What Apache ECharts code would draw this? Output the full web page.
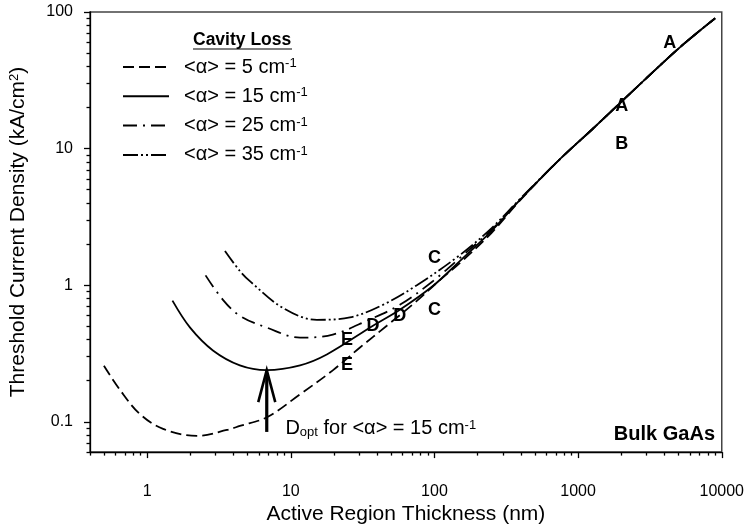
<!DOCTYPE html>
<html>
<head>
<meta charset="utf-8">
<script src="https://cdn.jsdelivr.net/npm/echarts@6/dist/echarts.min.js"></script>
<style>
  html, body { margin: 0; padding: 0; background: #fff; }
  #chart { width: 747px; height: 530px; }
</style>
</head>
<body>
<div id="chart"></div>
<script>
// Threshold current density of GaAs lasers vs. active-region thickness,
// for four values of the average cavity loss.
const lossValues = [5, 15, 25, 35];

// thickness (nm) / threshold current density (kA/cm^2) for each cavity loss
const d05 = [0.5, 0.65, 0.89, 1.29, 2.22, 3.59, 4.42, 6.82, 11.6, 19.6, 30.3, 46.6, 75.4, 109, 150, 250, 400];
const j05 = [0.257, 0.170, 0.114, 0.0887, 0.0788, 0.0871, 0.0932, 0.108, 0.159, 0.238, 0.350, 0.505, 0.767, 1.09, 1.45, 2.42, 4.25];
const d15 = [1.5, 1.99, 2.87, 4.42, 6.79, 11.6, 17.8, 37.3, 57.4, 97.4, 150, 250, 400];
const j15 = [0.771, 0.489, 0.333, 0.259, 0.239, 0.259, 0.311, 0.505, 0.661, 0.986, 1.50, 2.50, 4.28];
const d25 = [2.55, 3.37, 4.42, 6.82, 11.6, 19.6, 33.9, 57.4, 97.4, 150, 250, 400];
const j25 = [1.18, 0.781, 0.597, 0.489, 0.413, 0.435, 0.550, 0.718, 1.07, 1.58, 2.55, 4.30];
const d35 = [3.48, 4.42, 5.19, 8.81, 15.2, 25.8, 43.7, 75.4, 150, 250, 400];
const j35 = [1.78, 1.27, 1.07, 0.682, 0.558, 0.581, 0.718, 1.00, 1.66, 2.62, 4.35];

// thick-layer (bulk) branch shared by every curve
const dBulk = [750, 1250, 2200, 5000, 9000];
const jBulk = [8.4, 13.8, 24.2, 54, 90];

// point labels placed along the curves
const markD = [4350, 2014, 2014, 100, 100, 57.4, 37.3, 24.6, 24.6];
const markJ = [59.6, 20.4, 10.8, 1.58, 0.66, 0.597, 0.505, 0.40, 0.259];
const markText = ['A', 'A', 'B', 'C', 'C', 'D', 'D', 'E', 'E'];

// optimum thickness for <α> = 15 cm-1 (arrow from bottom value up to curve minimum)
const dOpt = 6.8;
const arrowJ = [0.0843, 0.239];
const noteD = 9.1;
const noteJ = 0.089;

// axis ranges and tick labels
const xRange = [0.4, 10000];
const yRange = [0.06, 100];
const xTicks = [1, 10, 100, 1000, 10000];
const yTicks = [0.1, 1, 10, 100];

const FONT = '"Liberation Sans", Arial, Helvetica, sans-serif';
const dashPatterns = [[11, 5], 'solid', [14, 6, 2, 6], [15, 3, 2, 3, 2, 3]];
const CLEAR = 'rgba(0,0,0,0)';

function logMinorTicks(lo, hi) {
  const out = [];
  for (let e = -3; e <= 5; e++) {
    for (let m = 2; m < 10; m++) {
      const v = +(m * Math.pow(10, e)).toPrecision(6);
      if (v >= lo * 0.9999 && v <= hi * 1.0001) out.push(v);
    }
  }
  return out;
}

const curves = [[d05, j05], [d15, j15], [d25, j25], [d35, j35]];
const names = lossValues.map(v => '<α> = ' + v + ' cm-1');

const curveSeries = curves.map(([d, j], i) => {
  const xs = d.concat(dBulk);
  const ys = j.concat(jBulk);
  return {
    name: names[i],
    type: 'line',
    xAxisIndex: 0,
    yAxisIndex: 0,
    data: xs.map((x, k) => [x, ys[k]]),
    symbol: 'none',
    smooth: 0.35,
    silent: true,
    itemStyle: { color: '#000' },
    lineStyle: { color: '#000', width: 1.8, type: dashPatterns[i] },
    z: i === 1 ? 6 : 4
  };
});

const axisLineStyle = { color: '#000', width: 1.3 };

// text-only marker series (transparent symbol, black label)
function textSeries(data, label) {
  return {
    type: 'scatter',
    xAxisIndex: 0, yAxisIndex: 0,
    silent: true,
    symbol: 'circle', symbolSize: 1,
    itemStyle: { color: CLEAR, opacity: 1 },
    emphasis: { disabled: true },
    data: data,
    label: Object.assign({ show: true, color: '#000', fontFamily: FONT, opacity: 1 }, label),
    z: 8
  };
}

const chart = echarts.init(document.getElementById('chart'), null, { renderer: 'canvas' });
chart.setOption({
  animation: false,
  backgroundColor: '#fff',
  textStyle: { fontFamily: FONT },
  grid: {
    left: 90, right: 25, top: 12, bottom: 75,
    show: true, borderColor: '#444', borderWidth: 1.5, backgroundColor: 'transparent'
  },
  legend: {
    orient: 'vertical',
    left: 122,
    top: 57,
    padding: 0,
    itemWidth: 46,
    itemHeight: 14,
    itemGap: 9.3,
    selectedMode: false,
    data: names,
    itemStyle: { color: CLEAR, borderWidth: 0, opacity: 0 },
    formatter: name => '{t|' + name.replace(' cm-1', ' cm') + '}{s|-1}',
    textStyle: {
      color: '#000',
      fontFamily: FONT,
      fontSize: 20,
      padding: [0, 0, 0, 10],
      rich: {
        t: { fontSize: 20, lineHeight: 20, fontFamily: FONT, color: '#000' },
        s: { fontSize: 13, lineHeight: 9, verticalAlign: 'top', fontFamily: FONT, color: '#000' }
      }
    }
  },
  graphic: [
    {
      type: 'text', left: 193, top: 31,
      style: { text: 'Cavity Loss', font: 'bold 17.5px ' + FONT, fill: '#000' }
    },
    {
      type: 'line', shape: { x1: 193, y1: 49, x2: 292, y2: 49 },
      style: { stroke: '#000', lineWidth: 1.2 }
    },
    {
      type: 'text', right: 32, top: 424,
      style: { text: 'Bulk GaAs', font: 'bold 20px ' + FONT, fill: '#000' }
    }
  ],
  xAxis: [
    {
      type: 'log', logBase: 10, min: xRange[0], max: xRange[1],
      axisLine: { lineStyle: axisLineStyle },
      axisTick: { customValues: xTicks, length: 6, lineStyle: axisLineStyle },
      axisLabel: {
        customValues: xTicks, margin: 31, fontSize: 16, color: '#000', fontFamily: FONT,
        formatter: v => String(v)
      },
      splitLine: { show: false },
      name: 'Active Region Thickness (nm)',
      nameLocation: 'middle', nameGap: 47,
      nameTextStyle: { fontSize: 21, color: '#000', fontFamily: FONT }
    },
    {
      type: 'log', logBase: 10, min: xRange[0], max: xRange[1], position: 'bottom', offset: 0,
      axisLine: { show: false },
      axisTick: { customValues: logMinorTicks(xRange[0], xRange[1]), length: 3.5, lineStyle: axisLineStyle },
      axisLabel: { show: false },
      splitLine: { show: false }
    }
  ],
  yAxis: [
    {
      type: 'log', logBase: 10, min: yRange[0], max: yRange[1],
      axisLine: { lineStyle: axisLineStyle },
      axisTick: { customValues: yTicks, length: 6, lineStyle: axisLineStyle },
      axisLabel: {
        customValues: yTicks, margin: 17, fontSize: 16, color: '#000', fontFamily: FONT,
        formatter: v => String(v)
      },
      splitLine: { show: false },
      name: 'Threshold Current Density (kA/cm{s|2})',
      nameLocation: 'middle', nameGap: 61, nameRotate: 90,
      nameTextStyle: {
        fontSize: 21, color: '#000', fontFamily: FONT,
        rich: {
          s: { fontSize: 13, lineHeight: 9, verticalAlign: 'top', fontFamily: FONT, color: '#000' }
        }
      }
    },
    {
      type: 'log', logBase: 10, min: yRange[0], max: yRange[1], position: 'left', offset: 0,
      axisLine: { show: false },
      axisTick: { customValues: logMinorTicks(yRange[0], yRange[1]), length: 3.5, lineStyle: axisLineStyle },
      axisLabel: { show: false },
      splitLine: { show: false }
    }
  ],
  series: curveSeries.concat([
    textSeries(markD.map((d, i) => [d, markJ[i], markText[i]]), {
      position: 'inside',
      formatter: p => p.value[2],
      fontSize: 18, fontWeight: 'bold'
    }),
    textSeries([[noteD, noteJ]], {
      position: 'right', distance: 0,
      formatter: '{m|D}{b|opt}{m| for <α> = 15 cm}{p|-1}',
      rich: {
        m: { fontSize: 20, lineHeight: 20, fontFamily: FONT, color: '#000' },
        b: { fontSize: 13, lineHeight: 8, verticalAlign: 'bottom', fontFamily: FONT, color: '#000' },
        p: { fontSize: 13, lineHeight: 9, verticalAlign: 'top', fontFamily: FONT, color: '#000' }
      }
    }),
    {
      type: 'custom',
      xAxisIndex: 0, yAxisIndex: 0,
      silent: true,
      data: [[dOpt, arrowJ[0], arrowJ[1]]],
      encode: { x: 0, y: [1, 2] },
      renderItem: (params, api) => {
        const b = api.coord([api.value(0), api.value(1)]);
        const t = api.coord([api.value(0), api.value(2)]);
        return {
          type: 'group',
          children: [
            {
              type: 'line',
              shape: { x1: b[0], y1: b[1], x2: t[0], y2: t[1] + 3 },
              style: { stroke: '#000', lineWidth: 3.2 }
            },
            {
              type: 'polyline',
              shape: { points: [[t[0] - 8.5, t[1] + 32], [t[0], t[1]], [t[0] + 8.5, t[1] + 32]] },
              style: { stroke: '#000', fill: null, lineWidth: 2.6 }
            }
          ]
        };
      },
      z: 7
    }
  ])
});
</script>
</body>
</html>
